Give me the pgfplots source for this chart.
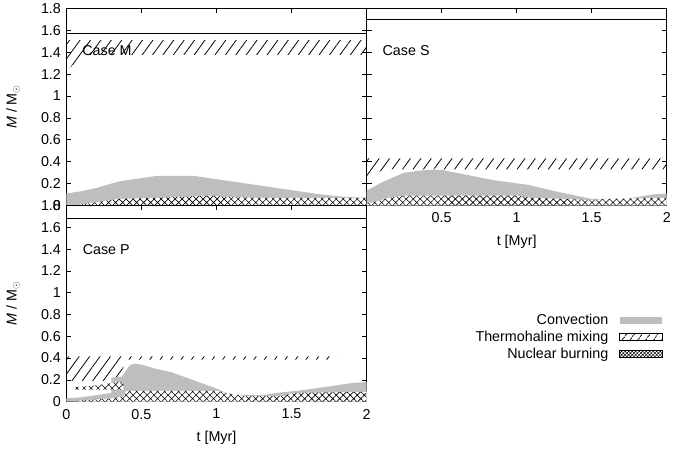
\documentclass[border=0pt]{standalone}
\usepackage{fontspec}
\setmainfont{Liberation Sans}
\usepackage{pgfplots}
\pgfplotsset{compat=1.18}
\usetikzlibrary{patterns.meta}
\definecolor{convgray}{RGB}{190,190,190}

\tikzset{
 thermo/.style={draw=none, pattern={Lines[angle=54,distance=8.5bp,line width=0.8bp]},pattern color=black},
 nuc/.style={draw=none, preaction={fill=white}, pattern={Hatch[angle=45,distance=5bp,line width=0.6bp]}, pattern color=black},
 conv/.style={fill=convgray, draw=none},
}

\pgfplotsset{
 every axis/.append style={
   scale only axis, width=303bp,
   xmin=0,xmax=2,ymin=0,ymax=1.8,
   tick align=inside, major tick length=5bp,
   ytick={0,0.2,0.4,0.6,0.8,1,1.2,1.4,1.6,1.8},
   xtick={0,0.5,1,1.5,2},
   every tick/.style={black, line width=0.6bp},
   axis line style={line width=0.8bp},
   /pgf/number format/assume math mode=true,
   tick label style={font=\fontsize{14.5}{17}\selectfont},
   label style={font=\fontsize{14.5}{17}\selectfont},
   xticklabel style={yshift=-4bp},
   yticklabel style={xshift=-2bp},
   xlabel style={yshift=-5bp},
   every axis y label/.style={at={(axis description cs:-0.178,0.5)}, rotate=90, anchor=center},
 },
}

\begin{document}
\begin{tikzpicture}[font=\fontsize{14.5}{17}\selectfont]
\path (0,0) rectangle (674bp,452bp);

% ---------------- Case M ----------------
\begin{axis}[at={(67bp,248bp)}, anchor=south west, height=199bp,
  xticklabels={}, ylabel={\textit{M} / M$_\odot$}]
\addplot[thermo] coordinates {(0,1.23) (0.12,1.375) (2,1.375) (2,1.51) (0,1.51)} --cycle;
\addplot[conv] coordinates {(0,0) (0,0.11) (0.1,0.13) (0.2,0.16) (0.3,0.2) (0.35,0.22) (0.5,0.25) (0.6,0.27) (0.85,0.27) (0.95,0.25) (1.05,0.23) (1.2,0.2) (1.35,0.17) (1.5,0.14) (1.6,0.12) (1.7,0.1) (1.85,0.08) (2,0.07) (2,0)} --cycle;
\addplot[nuc] coordinates {(0.05,0) (0.1,0.01) (0.2,0.03) (0.35,0.06) (0.6,0.07) (0.8,0.08) (0.95,0.09) (1.05,0.08) (1.3,0.07) (2,0.07) (2,0)} --cycle;
\addplot[black, line width=0.8bp] coordinates {(0,1.575) (2,1.575)};
\node[anchor=west, inner sep=0pt] at (axis cs:0.105,1.41) {Case M};
\end{axis}

% ---------------- Case S ----------------
\begin{axis}[at={(370bp,248bp)}, anchor=south west, height=199bp,
  yticklabels={}, xtick={0.5,1,1.5,2}, xlabel={t [Myr]}]
\addplot[thermo] coordinates {(0,0.25) (0.12,0.33) (2,0.33) (2,0.43) (0,0.43)} --cycle;
\addplot[conv] coordinates {(0,0) (0,0.135) (0.1,0.21) (0.25,0.3) (0.4,0.325) (0.5,0.325) (0.63,0.29) (0.85,0.23) (1.07,0.19) (1.29,0.12) (1.5,0.06) (1.73,0.06) (1.9,0.1) (2,0.11) (2,0)} --cycle;
\addplot[nuc] coordinates {(0,0) (0,0.02) (0.05,0.03) (0.15,0.07) (0.25,0.09) (1.0,0.09) (1.1,0.07) (1.5,0.05) (1.6,0.06) (2,0.07) (2,0)} --cycle;
\addplot[black, line width=0.8bp] coordinates {(0,1.70) (2,1.70)};
\node[anchor=west, inner sep=0pt] at (axis cs:0.106,1.41) {Case S};
\end{axis}

% ---------------- Case P ----------------
\begin{axis}[at={(67bp,50bp)}, anchor=south west, height=198bp,
  xlabel={t [Myr]}, ylabel={\textit{M} / M$_\odot$},
  legend style={at={(1.987,0.452)}, anchor=north east, draw=none, fill=none,
    inner sep=0pt, legend cell align=right, row sep=3bp, column sep=10bp,
    nodes={inner sep=1bp}},
  legend plot pos=right,
  legend image code/.code={\path[#1] (0bp,-3.5bp) rectangle (43bp,3.5bp);}]
\addplot[thermo, forget plot] coordinates {(0,0.19) (0.38,0.19) (0.38,0.385) (1.8,0.385) (1.8,0.415) (0,0.415)} --cycle;
\addplot[conv, forget plot] coordinates {(0,0) (0,0.03) (0.1,0.04) (0.2,0.06) (0.3,0.08) (0.3,0.22) (0.37,0.23) (0.42,0.33) (0.45,0.35) (0.5,0.34) (0.6,0.3) (0.7,0.27) (0.8,0.22) (0.9,0.17) (1.0,0.12) (1.08,0.07) (1.1,0.06) (1.3,0.06) (1.4,0.08) (1.6,0.11) (1.8,0.15) (1.9,0.17) (2,0.18) (2,0)} --cycle;
\addplot[nuc, forget plot] coordinates {(0.05,0) (0.1,0.01) (0.3,0.03) (0.38,0.05) (0.4,0.1) (1.0,0.1) (1.1,0.07) (1.2,0.05) (1.45,0.05) (1.5,0.08) (2,0.09) (2,0)} --cycle;
\addplot[nuc, forget plot] coordinates {(0.04,0.11) (0.04,0.13) (0.2,0.15) (0.35,0.18) (0.38,0.17) (0.38,0.11)} --cycle;
\addplot[black, line width=0.8bp, forget plot] coordinates {(0,1.68) (2,1.68)};
\node[anchor=west, inner sep=0pt] at (axis cs:0.108,1.40) {Case P};
\addlegendimage{fill=convgray, draw=none}
\addlegendentry{Convection}
\addlegendimage{draw=black, line width=0.6bp, pattern={Lines[angle=54,distance=6bp,line width=0.8bp]}, pattern color=black}
\addlegendentry{Thermohaline mixing}
\addlegendimage{draw=black, line width=0.6bp, preaction={fill=white}, pattern={Hatch[angle=45,distance=2.5bp,line width=0.5bp]}, pattern color=black}
\addlegendentry{Nuclear burning}
\end{axis}
\end{tikzpicture}
\end{document}
